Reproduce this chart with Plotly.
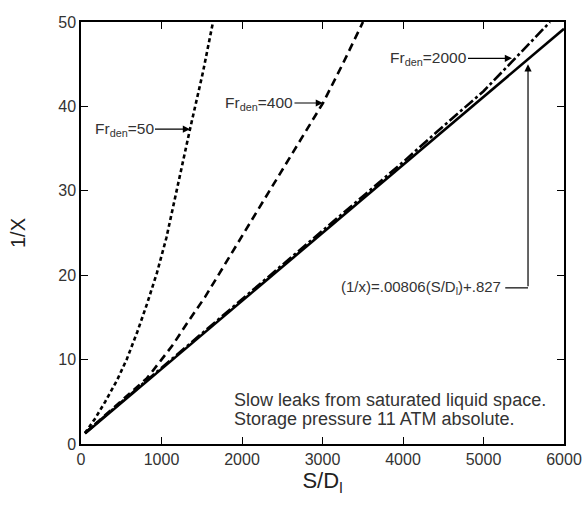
import plotly.graph_objects as go

# Data
sd_fit = [50, 1000, 2000, 3000, 4000, 5000, 6000]
inv_x_fit = [1.23, 8.89, 16.95, 25.01, 33.07, 41.13, 49.19]

sd_fr2000 = [50, 1000, 2000, 3000, 3500, 4000, 4422, 5000, 5354, 5600, 5826]
inv_x_fr2000 = [1.3, 9.0, 17.1, 25.2, 29.3, 33.4, 37.0, 41.8, 45.3, 47.7, 50.0]

sd_fr400 = [50, 300, 600, 820, 1000, 1130, 1317, 1540, 2100, 2683, 3006, 3250, 3503]
inv_x_fr400 = [1.3, 3.4, 5.9, 7.8, 10.0, 11.6, 14.3, 17.4, 26.2, 35.4, 40.4, 45.0, 50.0]

sd_fr50 = [50, 174, 300, 450, 571, 700, 820, 944, 1060, 1230, 1354, 1516, 1640]
inv_x_fr50 = [1.3, 3.0, 5.0, 7.6, 10.1, 13.3, 16.6, 20.3, 24.4, 32.0, 37.3, 44.1, 50.0]

x_ticks = [0, 1000, 2000, 3000, 4000, 5000, 6000]
y_ticks = [0, 10, 20, 30, 40, 50]

FONT = "Liberation Sans, Arial, sans-serif"

fig = go.Figure()
fig.add_trace(go.Scatter(x=sd_fit, y=inv_x_fit, mode="lines",
                         line=dict(color="black", width=2.6)))
fig.add_trace(go.Scatter(x=sd_fr2000, y=inv_x_fr2000, mode="lines",
                         line=dict(color="black", width=2.6, dash="11px,3px,3px,3px")))
fig.add_trace(go.Scatter(x=sd_fr400, y=inv_x_fr400, mode="lines",
                         line=dict(color="black", width=2.6, dash="8px,5px")))
fig.add_trace(go.Scatter(x=sd_fr50, y=inv_x_fr50, mode="lines",
                         line=dict(color="black", width=2.6, dash="4px,3px")))

axis_common = dict(showline=True, linecolor="black", linewidth=1.5, mirror="ticks",
                   ticks="inside", ticklen=7, tickwidth=1.2, tickcolor="black",
                   showgrid=False, zeroline=False, automargin=False,
                   tickfont=dict(family=FONT, size=16, color="#333"))

fig.update_layout(
    width=584, height=505,
    margin=dict(l=81, r=20, t=22, b=61),
    plot_bgcolor="white", paper_bgcolor="white",
    showlegend=False,
    font=dict(family=FONT, color="#222"),
    xaxis=dict(range=[0, 6000], tickvals=x_ticks, **axis_common,
               title=dict(text="S/D<sub>l</sub>", font=dict(family=FONT, size=22, color="#222"),
                          standoff=6)),
    yaxis=dict(range=[0, 50], tickvals=y_ticks, **axis_common,
               title=dict(text="1/X", font=dict(family=FONT, size=20, color="#222"),
                          standoff=27)),
)

arrow_style = dict(showarrow=True, arrowhead=2, arrowsize=1.2, arrowwidth=1.2,
                   arrowcolor="black", font=dict(family=FONT, size=15.5, color="#333"))

fig.add_annotation(x=1354, y=37.3, text="Fr<sub>den</sub>=50", ax=-66, ay=0, **arrow_style)
fig.add_annotation(x=3006, y=40.4, text="Fr<sub>den</sub>=400", ax=-64, ay=0, **arrow_style)
fig.add_annotation(x=5354, y=45.7, text="Fr<sub>den</sub>=2000", ax=-84, ay=0, **arrow_style)

# formula label with leader line and arrow to the fitted line
fig.add_annotation(x=5240, y=18.5, text="(1/x)=.00806(S/D<sub>l</sub>)+.827",
                   showarrow=False, xanchor="right",
                   font=dict(family=FONT, size=15, color="#333"))
fig.add_shape(type="line", x0=5270, x1=5553, y0=18.5, y1=18.5,
              line=dict(color="black", width=1.2))
fig.add_annotation(x=5553, y=45.0, ax=5553, ay=18.5, axref="x", ayref="y", text="",
                   showarrow=True, arrowhead=2, arrowsize=1.2, arrowwidth=1.2,
                   arrowcolor="black")

note_font = dict(family=FONT, size=18, color="#333")
fig.add_annotation(x=1870, y=5.25, xanchor="left", yanchor="middle", showarrow=False,
                   text="Slow leaks from saturated liquid space.", font=note_font)
fig.add_annotation(x=1870, y=3.0, xanchor="left", yanchor="middle", showarrow=False,
                   text="Storage pressure 11 ATM absolute.", font=note_font)

fig.write_html("out.html")
